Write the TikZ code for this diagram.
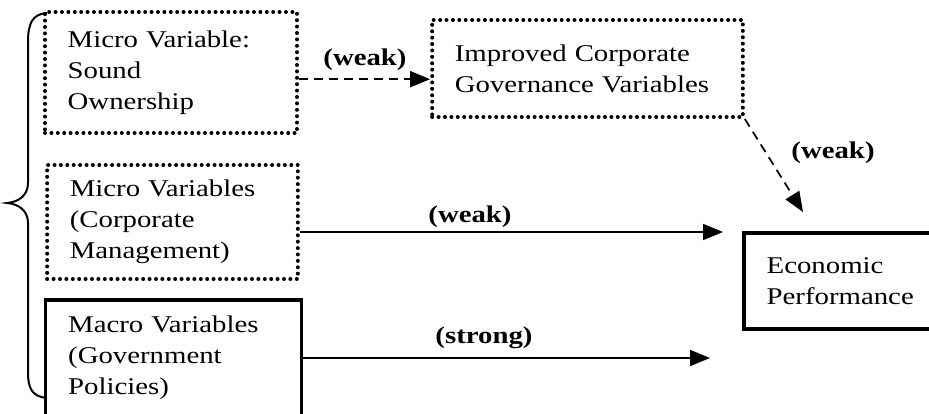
\documentclass[tikz,border=0pt]{standalone}
\usepackage{fontspec}
\setmainfont{Liberation Serif}[FakeStretch=1.2]
\usetikzlibrary{arrows.meta}
\begin{document}
\fontsize{18}{23.25}\selectfont
\begin{tikzpicture}[x=0.75pt,y=-0.75pt,
    varbox/.style={rectangle,align=left,inner xsep=17pt,inner ysep=0pt},
    dotbox/.style={varbox,draw,line width=3pt,line cap=round,dash pattern=on 0pt off 4.8pt},
    solidbox/.style={varbox,draw,line width=2.6pt},
    link/.style={line width=1.3pt,-{Triangle[length=15pt,width=12pt]}},
    weaklink/.style={link,dash pattern=on 6.75pt off 4.5pt},
    tag/.style={font=\bfseries,inner sep=1pt}]
  \useasboundingbox (0,0) rectangle (929,414);
  \node[dotbox,text width=155pt,minimum height=90.75pt] (own) at (171,72.5)
    {Micro Variable:\\Sound\\Ownership};
  \node[dotbox,text width=199pt,minimum height=72.75pt] (gov) at (587.5,68.5)
    {Improved Corporate\\Governance Variables};
  \node[dotbox,text width=154pt,minimum height=85.5pt] (mgmt) at (172.5,222)
    {Micro Variables\\(Corporate\\Management)};
  \node[solidbox,text width=158pt,minimum height=87pt] (macro) at (173.5,358)
    {Macro Variables\\(Government\\Policies)};
  \node[solidbox,text width=107pt,minimum height=72pt] (econ) at (838,281)
    {Economic\\Performance};
  \coordinate (govend) at (803,212);
  \coordinate (mgmtend) at (723,232);
  \coordinate (macroend) at (710,358);
  \draw[weaklink] ([yshift=-5pt]own.east) -- ([yshift=-5pt]own.east -| gov.west);
  \draw[weaklink] (gov.south east) -- (govend);
  \draw[link] (mgmt.east |- mgmtend) -- (mgmtend);
  \draw[link] (macro.east) -- (macroend);
  \node[tag] (t1) at (365,60) {(weak)};
  \node[tag] (t2) at (833,153) {(weak)};
  \node[tag] (t3) at (470,217) {(weak)};
  \node[tag] (t4) at (484,338) {(strong)};
  \draw[line width=1.5pt] (47,13) .. controls (32,14) and (28,24) .. (28,42) -- (28,183)
    .. controls (28,196) and (18,202) .. (7,203) .. controls (18,204) and (28,210) .. (28,223)
    -- (28,372) .. controls (28,390) and (33,396) .. (46,398);
\end{tikzpicture}
\end{document}
